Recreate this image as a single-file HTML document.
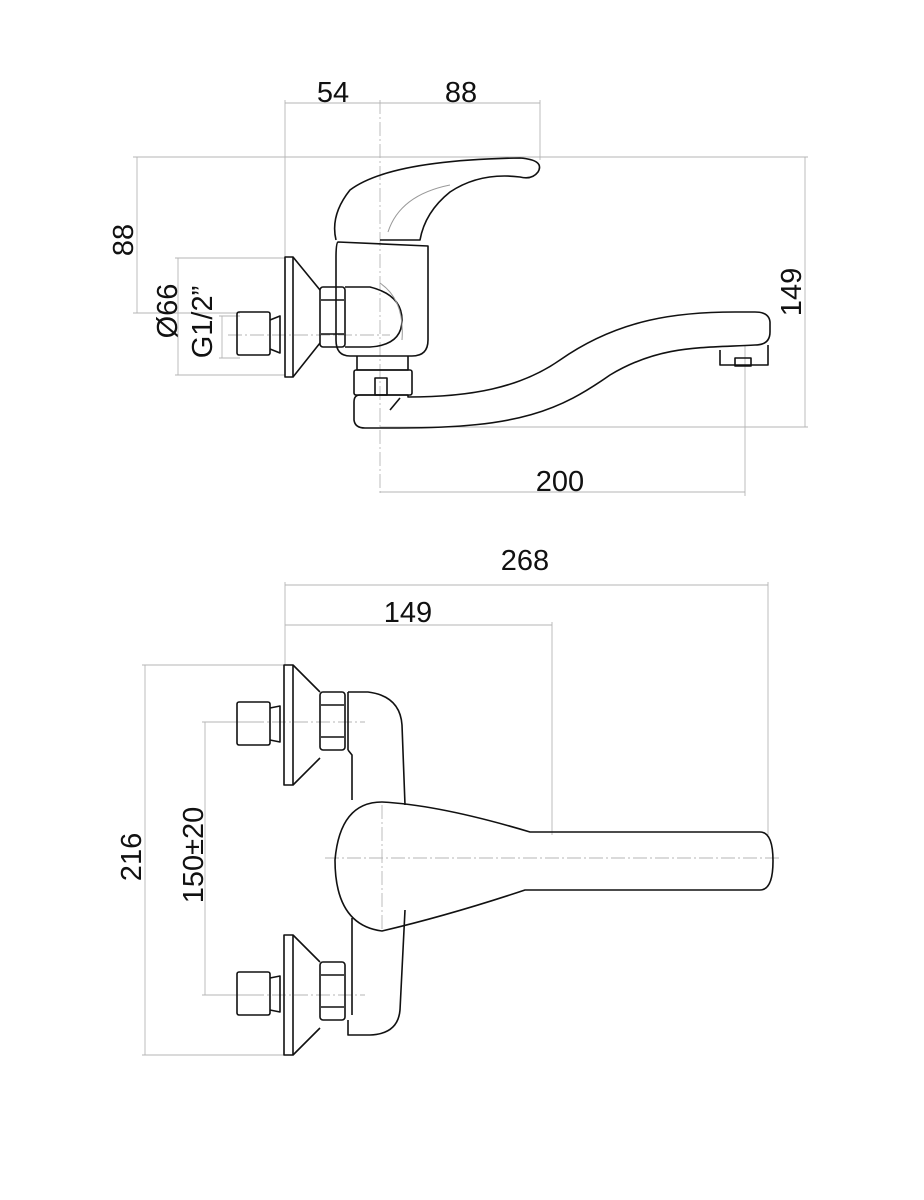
<!DOCTYPE html>
<html><head><meta charset="utf-8"><style>html,body{margin:0;padding:0;background:#fff}svg{display:block}</style></head>
<body>
<svg width="924" height="1200" viewBox="0 0 924 1200" xmlns="http://www.w3.org/2000/svg" font-family="Liberation Sans, sans-serif">
<g stroke="#b5b5b5" stroke-width="0.9" fill="none">
<!-- top dims -->
<line x1="285" y1="100" x2="285" y2="257"/>
<line x1="540" y1="100" x2="540" y2="160"/>
<line x1="285" y1="103" x2="540" y2="103"/>
<line x1="133" y1="157" x2="808" y2="157"/>
<line x1="137" y1="157" x2="137" y2="313"/>
<line x1="133" y1="313" x2="240" y2="313"/>
<line x1="805" y1="157" x2="805" y2="427"/>
<line x1="380" y1="427" x2="808" y2="427"/>
<line x1="178" y1="258" x2="178" y2="375"/>
<line x1="175" y1="258" x2="285" y2="258"/>
<line x1="175" y1="375" x2="285" y2="375"/>
<line x1="222" y1="316" x2="222" y2="358"/>
<line x1="219" y1="316" x2="240" y2="316"/>
<line x1="219" y1="358" x2="240" y2="358"/>
<line x1="745" y1="345" x2="745" y2="496"/>
<line x1="380" y1="492" x2="745" y2="492"/>
<line x1="380" y1="100" x2="380" y2="496" stroke-dasharray="14,3,2,3"/>
<line x1="228" y1="335" x2="390" y2="335" stroke-dasharray="14,3,2,3"/>
<!-- bottom dims -->
<line x1="285" y1="582" x2="285" y2="665"/>
<line x1="768" y1="582" x2="768" y2="835"/>
<line x1="285" y1="585" x2="768" y2="585"/>
<line x1="552" y1="622" x2="552" y2="835"/>
<line x1="285" y1="625" x2="552" y2="625"/>
<line x1="142" y1="665" x2="285" y2="665"/>
<line x1="142" y1="1055" x2="285" y2="1055"/>
<line x1="145" y1="665" x2="145" y2="1055"/>
<line x1="202" y1="722" x2="250" y2="722"/>
<line x1="202" y1="995" x2="250" y2="995"/>
<line x1="205" y1="722" x2="205" y2="995"/>
<line x1="228" y1="722" x2="365" y2="722" stroke-dasharray="14,3,2,3"/>
<line x1="228" y1="995" x2="365" y2="995" stroke-dasharray="14,3,2,3"/>
<line x1="325" y1="858" x2="780" y2="858" stroke-dasharray="14,3,2,3"/>
<line x1="382" y1="805" x2="382" y2="930" stroke-dasharray="14,3,2,3"/>
</g>
<g fill="#111" font-size="29">
<text x="333" y="102" text-anchor="middle">54</text>
<text x="461" y="102" text-anchor="middle">88</text>
<text x="560" y="491" text-anchor="middle">200</text>
<text transform="translate(133,240) rotate(-90)" text-anchor="middle">88</text>
<text transform="translate(801,292) rotate(-90)" text-anchor="middle">149</text>
<text transform="translate(177,311) rotate(-90)" text-anchor="middle">Ø66</text>
<text transform="translate(212,322) rotate(-90)" text-anchor="middle">G1/2”</text>
<text x="525" y="570" text-anchor="middle">268</text>
<text x="408" y="622" text-anchor="middle">149</text>
<text transform="translate(141,857) rotate(-90)" text-anchor="middle">216</text>
<text transform="translate(203,855) rotate(-90)" text-anchor="middle">150±20</text>
</g>
<g stroke="#111" stroke-width="1.6" fill="none" stroke-linejoin="round">
<!-- TOP VIEW -->
<rect x="285" y="257" width="8" height="120"/>
<path d="M293 257 L320 290 M293 377 L320 343"/>
<rect x="237" y="312" width="33" height="43" rx="2"/>
<path d="M270 320 L280 316 L280 353 L270 349"/>
<rect x="320" y="287" width="25" height="60" rx="3"/>
<path d="M321 300 H344 M321 334 H344"/>
<path d="M338 242 L428 246 L428 340 Q428 356 412 356 L350 356 Q336 356 336 340 L336 258 Q336 242 338 242 Z"/>
<path d="M345 287 L370 287 Q402 295 402 320 Q402 345 370 347 L345 347"/>
<path d="M380 283 Q405 300 402 340" stroke="#999" stroke-width="1"/>
<path d="M336 240 Q330 215 350 190 Q390 160 520 158 Q545 160 538 172 Q532 180 520 177 Q480 172 450 192 Q425 212 420 240 L380 240"/>
<path d="M388 232 Q400 195 450 185" stroke="#999" stroke-width="1"/>
<path d="M357 356 V370 H408 V356"/>
<rect x="354" y="370" width="58" height="25" rx="2"/>
<rect x="375" y="378" width="12" height="17"/>
<path d="M360 395 Q354 395 354 402 L354 420 Q355 428 365 428 L400 428 C520 428 560 410 610 375 C660 345 700 348 755 345 Q770 345 770 332 L770 322 Q769 312 755 312 L735 312 C680 312 620 318 560 360 C520 388 470 397 408 397 L408 395 Z"/>
<path d="M390 410 L400 398" />
<path d="M720 350 L720 365 H768 V345" />
<rect x="735" y="358" width="16" height="8"/>
<!-- BOTTOM VIEW -->
<rect x="284" y="665" width="9" height="120"/>
<path d="M293 665 L320 692 M293 785 L320 758"/>
<rect x="237" y="702" width="33" height="43" rx="2"/>
<path d="M270 708 L280 706 L280 742 L270 740"/>
<rect x="320" y="692" width="25" height="58" rx="3"/>
<path d="M321 705 H344 M321 737 H344"/>
<rect x="284" y="935" width="9" height="120"/>
<path d="M293 935 L320 962 M293 1055 L320 1028"/>
<rect x="237" y="972" width="33" height="43" rx="2"/>
<path d="M270 978 L280 976 L280 1012 L270 1010"/>
<rect x="320" y="962" width="25" height="58" rx="3"/>
<path d="M321 975 H344 M321 1007 H344"/>
<path d="M348 692 L368 692 Q400 696 402 725 L405 805 M405 910 L400 1010 Q398 1034 370 1035 L348 1035 L348 1020 M348 750 L352 755 L352 800 M352 918 L352 1015"/>
<path d="M348 692 V750"/>
<path d="M382 802 Q440 805 530 832 L760 832 Q773 832 773 861 Q773 890 760 890 L525 890 Q450 915 382 931 Q335 925 335 860 Q340 802 382 802 Z"/>
</g>
</svg>
</body></html>
